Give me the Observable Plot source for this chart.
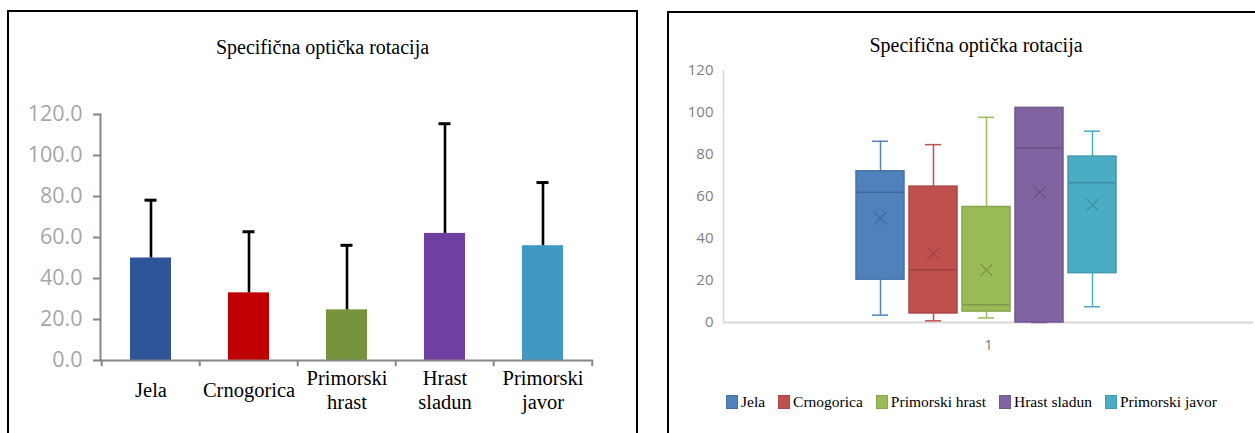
<!DOCTYPE html>
<html>
<head>
<meta charset="utf-8">
<script src="https://cdn.jsdelivr.net/npm/d3@7"></script>
<script src="https://cdn.jsdelivr.net/npm/@observablehq/plot@0.6"></script>
<style>
  html, body { margin: 0; padding: 0; background: #fff; }
  body { position: relative; width: 1255px; height: 433px; overflow: hidden; }
  .abs { position: absolute; }
  .panel-frame { position: absolute; border: 2px solid #000; box-sizing: border-box; pointer-events: none; }
  .serif { font-family: "Liberation Serif", "Times New Roman", Times, Tinos, "DejaVu Serif", serif; }
  .title { position: absolute; text-align: center; font-size: 20px; line-height: 20px; color: #000; white-space: nowrap; }
  .legend { position: absolute; display: flex; align-items: center; font-size: 15.5px; line-height: 20px; color: #000; white-space: nowrap; }
  .legend .item { display: flex; align-items: center; margin-right: 13px; }
  .legend .sw { display: inline-block; width: 12px; height: 14px; box-sizing: border-box; margin-right: 3px; }
</style>
</head>
<body>
<div id="left" class="abs" style="left:0;top:0;"></div>
<div id="right" class="abs" style="left:640px;top:0;"></div>
<div class="title serif" style="left:8px;width:629px;top:37px;">Specifična optička rotacija</div>
<div class="title serif" style="left:776px;width:400px;top:35px;">Specifična optička rotacija</div>
<div id="legend" class="legend serif" style="left:726px;top:392px;"></div>
<div class="panel-frame" style="left:7px;top:10px;width:631px;height:460px;"></div>
<div class="panel-frame" style="left:667px;top:11px;width:700px;height:460px;"></div>
<script>
// ---- data ----
const categories = ["Jela", "Crnogorica", "Primorski hrast", "Hrast sladun", "Primorski javor"];
const axisLabels = ["Jela", "Crnogorica", "Primorski\nhrast", "Hrast\nsladun", "Primorski\njavor"];

// left chart: mean and standard deviation (upper error bar)
const meanValues = [50.0, 33.0, 24.7, 62.0, 56.0];
const sdValues = [28.2, 29.8, 31.5, 53.5, 30.8];
const barColors = ["#2e5597", "#c00000", "#77933c", "#7040a0", "#4198c5"];
const yTicksLeft = [0, 20, 40, 60, 80, 100, 120];

// right chart: box plot statistics
const boxCategory = ["1"];
const boxMin = [3.5, 0.8, 2.2, 0.0, 7.5];
const boxQ1 = [20.4, 4.3, 5.2, 0.0, 23.5];
const boxMedian = [62.0, 25.1, 8.4, 83.0, 66.6];
const boxQ3 = [72.0, 64.7, 55.0, 102.2, 79.0];
const boxMax = [86.3, 84.7, 97.7, 102.2, 91.1];
const boxMean = [49.6, 32.7, 25.0, 62.0, 56.0];
const boxColors = ["#4f81bd", "#c0504d", "#9bbb59", "#8064a2", "#4bacc6"];
const yTicksRight = [0, 20, 40, 60, 80, 100, 120];

const serifFont = '"Liberation Serif", "Times New Roman", Times, Tinos, "DejaVu Serif", serif';

// ---- tables ----
const barData = categories.map((name, i) => ({
  name, label: axisLabels[i], mean: meanValues[i], upper: meanValues[i] + sdValues[i], color: barColors[i]
}));
const dark = (c, k) => d3.color(c).darker(k).formatHex();
const boxData = categories.map((name, i) => ({
  name, min: boxMin[i], q1: boxQ1[i], median: boxMedian[i], q3: boxQ3[i], max: boxMax[i], mean: boxMean[i],
  color: boxColors[i], border: dark(boxColors[i], 0.35), inner: dark(boxColors[i], 0.6)
}));

// ---- left chart ----
const leftW = 640, leftH = 433, lMl = 100, lMr = 47;
const leftStep = (leftW - lMl - lMr) / categories.length;
const axisGray = "#868686";
const leftPlot = Plot.plot({
  width: leftW, height: leftH,
  marginLeft: lMl, marginRight: lMr, marginTop: 114, marginBottom: 73,
  style: { background: "transparent", fontFamily: "Open Sans", fontSize: "20px", overflow: "visible" },
  x: { domain: categories, paddingInner: 0.58, paddingOuter: 0.29, axis: null },
  y: { domain: [0, 120], axis: null },
  color: { type: "identity" },
  marks: [
    Plot.barY(barData, { x: "name", y: "mean", fill: "color" }),
    Plot.ruleX(barData, { x: "name", y1: "mean", y2: "upper", stroke: "#000", strokeWidth: 2.6 }),
    Plot.tickY(barData, { x: "name", y: "upper", stroke: "#000", strokeWidth: 3, insetLeft: 14.5, insetRight: 14.5 }),
    Plot.ruleY([0], { stroke: axisGray, strokeWidth: 2 }),
    Plot.frame({ anchor: "left", stroke: axisGray, strokeWidth: 2 }),
    Plot.ruleX(categories, { x: d => d, dx: -leftStep / 2, y1: 0, y2: -3, stroke: axisGray, strokeWidth: 2 }),
    Plot.ruleX(categories.slice(-1), { x: d => d, dx: leftStep / 2, y1: 0, y2: -3, stroke: axisGray, strokeWidth: 2 }),
    Plot.axisY({
      ticks: yTicksLeft, tickFormat: d3.format(".1f"), tickSize: 7, tickPadding: 11,
      stroke: axisGray, strokeWidth: 2, fill: "#a6a6a6", fontSize: 21.5, fontFamily: "Open Sans"
    }),
    Plot.text(barData, {
      x: "name", text: "label", frameAnchor: "bottom", dy: 29, lineAnchor: "middle",
      fontSize: 20.5, lineHeight: 1.14, fontFamily: serifFont, fill: "#000"
    })
  ]
});
document.getElementById("left").append(leftPlot);

// ---- right chart ----
const lightGray = "#d9d9d9";
const rightPlot = Plot.plot({
  width: 615, height: 433,
  marginLeft: 83, marginRight: 2, marginTop: 70, marginBottom: 111,
  style: { background: "transparent", fontFamily: "Open Sans", fontSize: "15px", overflow: "visible" },
  x: { domain: categories, paddingInner: 0.085, paddingOuter: 2.5, align: 0.494, axis: null },
  y: { domain: [0, 120], axis: null },
  color: { type: "identity" },
  marks: [
    Plot.frame({ anchor: "left", stroke: lightGray, strokeWidth: 1.5 }),
    Plot.ruleY([0], { stroke: lightGray, strokeWidth: 2 }),
    Plot.axisY({ ticks: yTicksRight, tickSize: 0, tickPadding: 10, fill: "#7f7f7f", fontSize: 15, fontFamily: "Open Sans" }),
    Plot.ruleX(boxData, { x: "name", y1: "q3", y2: "max", stroke: "color", strokeWidth: 1.5 }),
    Plot.ruleX(boxData, { x: "name", y1: "min", y2: "q1", stroke: "color", strokeWidth: 1.5 }),
    Plot.tickY(boxData, { x: "name", y: "max", stroke: "color", strokeWidth: 1.5, insetLeft: 16, insetRight: 16 }),
    Plot.tickY(boxData, { x: "name", y: "min", stroke: "color", strokeWidth: 1.5, insetLeft: 16, insetRight: 16 }),
    Plot.barY(boxData, { x: "name", y1: "q1", y2: "q3", fill: "color", stroke: "border", strokeWidth: 1.5 }),
    Plot.tickY(boxData, { x: "name", y: "median", stroke: "inner", strokeWidth: 1.5, insetLeft: 0.75, insetRight: 0.75 }),
    Plot.dot(boxData, { x: "name", y: "mean", symbol: "times", r: 5.5, stroke: "inner", strokeWidth: 1.2 }),
    Plot.text(boxCategory, { text: d => d, frameAnchor: "bottom", dy: 27, fontSize: 15, fill: "#7f7f7f", fontFamily: "Open Sans" })
  ]
});
document.getElementById("right").append(rightPlot);

// ---- legend (right chart) ----
const legend = document.getElementById("legend");
boxData.forEach(d => {
  const item = document.createElement("span");
  item.className = "item";
  const sw = document.createElement("span");
  sw.className = "sw";
  sw.style.background = d.color;
  sw.style.border = "1px solid " + d.border;
  const t = document.createElement("span");
  t.textContent = d.name;
  item.append(sw, t);
  legend.append(item);
});
</script>
</body>
</html>
